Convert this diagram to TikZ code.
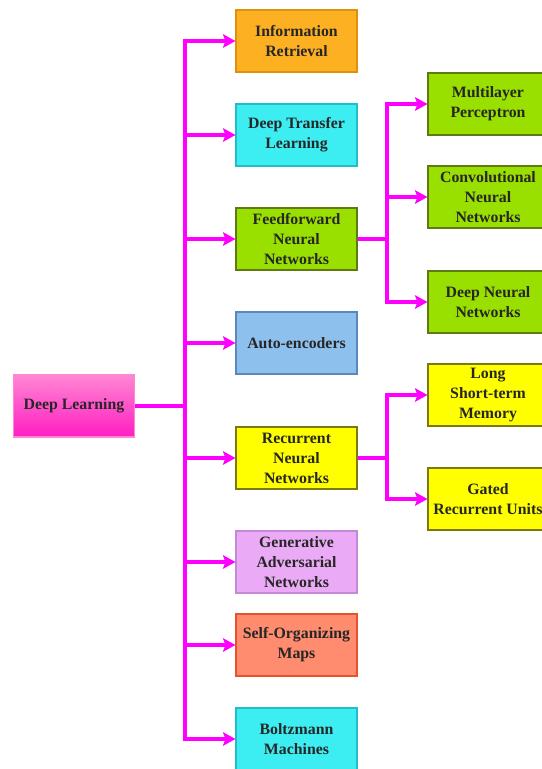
\documentclass[tikz,border=0pt]{standalone}
\usepackage{fontspec}
\setmainfont{Liberation Serif}
\usepackage{xcolor}
\usetikzlibrary{arrows.meta,positioning}
\definecolor{arrowmag}{HTML}{FF00FF}
\definecolor{irfill}{HTML}{FDB022}\definecolor{irline}{HTML}{E0900C}
\definecolor{cyfill}{HTML}{3CEEF2}\definecolor{cyline}{HTML}{22BCCB}
\definecolor{gnfill}{HTML}{99E000}\definecolor{gnline}{HTML}{5E7A10}
\definecolor{aefill}{HTML}{8EC0EE}\definecolor{aeline}{HTML}{5A88BE}
\definecolor{ylfill}{HTML}{FFFF00}\definecolor{ylline}{HTML}{7A7A10}
\definecolor{gafill}{HTML}{EBAAF5}\definecolor{galine}{HTML}{C488D6}
\definecolor{smfill}{HTML}{FF8C6E}\definecolor{smline}{HTML}{E8502E}
\definecolor{dltop}{HTML}{FF86D2}\definecolor{dlbot}{HTML}{FF1EC2}

\begin{document}
\begin{tikzpicture}[x=0.02cm,y=-0.02cm]
\tikzset{
  bx/.style={rectangle,line width=0.6pt,minimum width=2.42cm,minimum height=1.24cm,align=center,inner sep=1pt,font=\fontsize{9}{11.4}\selectfont\bfseries,text=black!85},
  sb/.style={bx,minimum width=2.4cm},
  ar/.style={-{Stealth[length=2.5mm,width=2.7mm,inset=0.5mm]},line width=1.8pt,draw=arrowmag}
}
\useasboundingbox (0,0) rectangle (542,769);
\clip (0,0) rectangle (542,769);
% root
\node[bx,draw=dltop,top color=dltop,bottom color=dlbot] (dl) at (74,406) {Deep Learning};
% main branches
\node[bx,fill=irfill,draw=irline] (ir) at (296.5,41) {Information\\Retrieval};
\node[bx,fill=cyfill,draw=cyline] (dtl) at (296.5,135) {Deep Transfer\\Learning};
\node[bx,fill=gnfill,draw=gnline] (ffn) at (296.5,239) {Feedforward\\Neural\\Networks};
\node[bx,fill=aefill,draw=aeline] (ae) at (296.5,343) {Auto-encoders};
\node[bx,fill=ylfill,draw=ylline] (rnn) at (296.5,458) {Recurrent\\Neural\\Networks};
\node[bx,fill=gafill,draw=galine] (gan) at (296.5,562) {Generative\\Adversarial\\Networks};
\node[bx,fill=smfill,draw=smline] (som) at (296.5,645) {Self-Organizing\\Maps};
\node[bx,fill=cyfill,draw=cyline] (bm) at (296.5,739) {Boltzmann\\Machines};
% sub branches
\node[sb,fill=gnfill,draw=gnline] (mlp) at (488,104) {Multilayer\\Perceptron};
\node[sb,fill=gnfill,draw=gnline] (cnn) at (488,197) {Convolutional\\Neural\\Networks};
\node[sb,fill=gnfill,draw=gnline] (dnn) at (488,302) {Deep Neural\\Networks};
\node[sb,fill=ylfill,draw=ylline] (lstm) at (488,395) {Long\\Short-term\\Memory};
\node[sb,fill=ylfill,draw=ylline] (gru) at (488,499) {Gated\\Recurrent Units};
% connectors
\coordinate (hub) at (185,406);
\coordinate (ffhub) at (387,239);
\coordinate (rnhub) at (387,458);
\draw[ar,-] (dl.east) -- (hub);
\foreach \n in {ir,dtl,ffn,ae,rnn,gan,som,bm}
  \draw[ar] (hub) |- (\n.west);
\draw[ar,-] (ffn.east) -- (ffhub);
\foreach \n in {mlp,cnn,dnn}
  \draw[ar] (ffhub) |- (\n.west);
\draw[ar,-] (rnn.east) -- (rnhub);
\foreach \n in {lstm,gru}
  \draw[ar] (rnhub) |- (\n.west);
\end{tikzpicture}
\end{document}
